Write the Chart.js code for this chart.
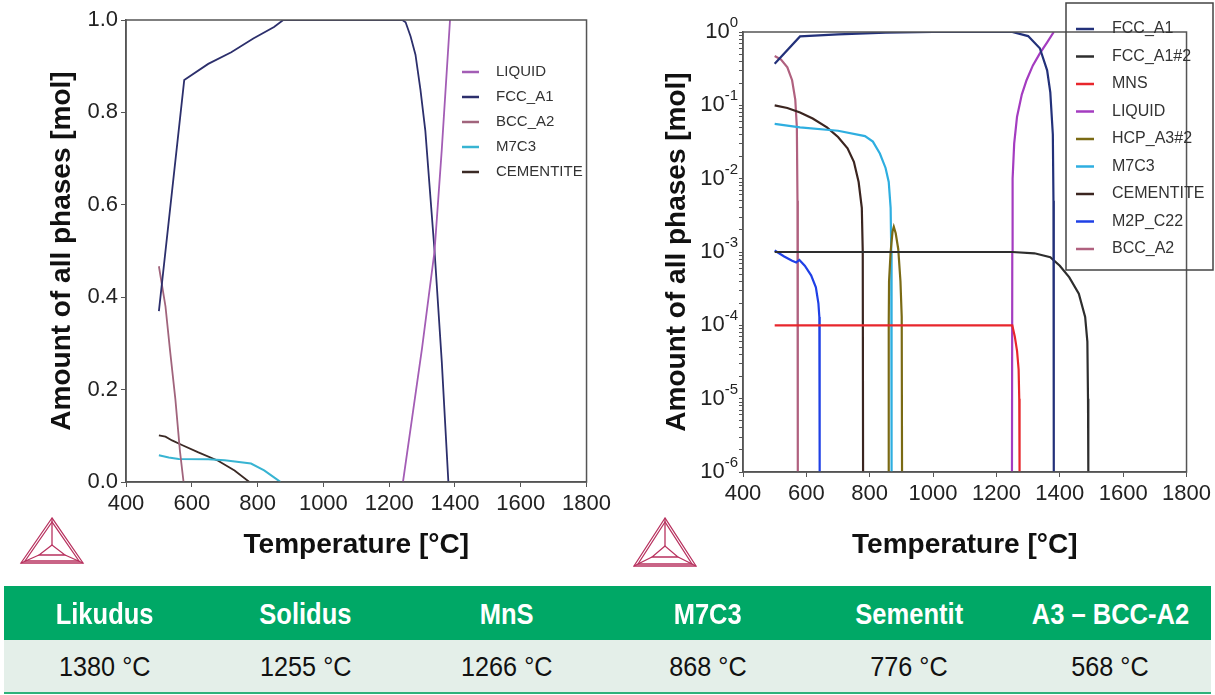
<!DOCTYPE html>
<html>
<head>
<meta charset="utf-8">
<script src="https://cdn.jsdelivr.net/npm/chart.js@4.4.0/dist/chart.umd.min.js"></script>
<style>
  body { margin:0; background:#fff; width:1215px; height:695px; overflow:hidden; position:relative; font-family:"Liberation Sans", Arial, sans-serif; }
  #cL { position:absolute; left:0; top:0; }
  #cR { position:absolute; left:615px; top:0; }
  .logo { position:absolute; top:512px; }
  .row { position:absolute; left:4px; width:1207px; display:flex; }
  .row div { flex:1; text-align:center; }
  .row span { display:inline-block; }
  #head { top:586px; height:54px; background:#00a866; color:#fff; font-weight:bold; font-size:29px; line-height:56px; }
  #head span { transform:scaleX(0.88); }
  #vals { top:640px; height:52px; background:#e4efe9; color:#111; font-size:28px; line-height:54px; border-bottom:2px solid #2db27a; }
  #vals span { transform:scaleX(0.9); }
</style>
</head>
<body>
<canvas id="cL" width="615" height="575"></canvas>
<canvas id="cR" width="600" height="575"></canvas>

<svg class="logo" style="left:14px" width="76" height="60" viewBox="0 0 76 60">
  <g fill="none" stroke="#b8325f" stroke-width="1.3">
    <polygon points="38,6 7,51 69,51"/>
    <polygon points="38,10 11,49 65,49"/>
    <polygon points="38,33 25,43 51,43"/>
    <line x1="38" y1="6" x2="38" y2="33"/>
    <line x1="7" y1="51" x2="25" y2="43"/>
    <line x1="69" y1="51" x2="51" y2="43"/>
  </g>
</svg>
<svg class="logo" style="left:627px" width="76" height="60" viewBox="0 0 76 60">
  <g fill="none" stroke="#b8325f" stroke-width="1.3">
    <polygon points="38,6 7,54 69,54"/>
    <polygon points="38,10 11,52 65,52"/>
    <polygon points="38,34 25,45 51,45"/>
    <line x1="38" y1="6" x2="38" y2="34"/>
    <line x1="7" y1="54" x2="25" y2="45"/>
    <line x1="69" y1="54" x2="51" y2="45"/>
  </g>
</svg>

<div class="row" id="head"></div>
<div class="row" id="vals"></div>

<script>
// axis ticks
const tempTicks = [400, 600, 800, 1000, 1200, 1400, 1600, 1800];
const linTicks = [0, 0.2, 0.4, 0.6, 0.8, 1.0];
const logPowers = [0, -1, -2, -3, -4, -5, -6];

// left chart (linear amounts)
const liqT = [1242, 1270, 1300, 1338, 1360, 1385];
const liqA = [0, 0.14, 0.29, 0.5, 0.72, 1.0];
const fccT = [500, 577, 650, 720, 787, 850, 878, 1240, 1250, 1265, 1280, 1295, 1310, 1338, 1360, 1380];
const fccA = [0.37, 0.87, 0.905, 0.93, 0.96, 0.985, 1.0, 1.0, 0.995, 0.965, 0.925, 0.85, 0.76, 0.5, 0.26, 0];
const bccT = [500, 520, 534, 550, 564, 575];
const bccA = [0.467, 0.38, 0.284, 0.18, 0.067, 0];
const m7c3T = [500, 530, 560, 650, 700, 780, 820, 850, 870];
const m7c3A = [0.058, 0.053, 0.05, 0.049, 0.047, 0.04, 0.025, 0.01, 0];
const cemT = [500, 520, 540, 570, 620, 680, 730, 775];
const cemA = [0.101, 0.098, 0.09, 0.08, 0.064, 0.046, 0.025, 0];

// right chart (log amounts)
const rFccT = [500, 580, 700, 850, 1000, 1250, 1300, 1337, 1360, 1370, 1378, 1380, 1381];
const rFccA = [0.37, 0.87, 0.93, 0.98, 1.0, 1.0, 0.88, 0.6, 0.3, 0.15, 0.04, 0.005, 1e-6];
const rFcc2T = [500, 1250, 1320, 1370, 1400, 1430, 1460, 1480, 1487, 1489, 1490];
const rFcc2A = [1e-3, 1e-3, 9.6e-4, 8.5e-4, 6.5e-4, 4.5e-4, 2.7e-4, 1.3e-4, 6e-5, 1e-5, 1e-6];
const rMnsT = [500, 1250, 1258, 1265, 1270, 1272, 1273];
const rMnsA = [1e-4, 1e-4, 7e-5, 4.5e-5, 2.5e-5, 1e-5, 1e-6];
const rLiqT = [1249, 1250, 1251, 1256, 1265, 1280, 1295, 1315, 1337, 1360, 1381];
const rLiqA = [1e-6, 1e-3, 0.01, 0.03, 0.07, 0.14, 0.22, 0.35, 0.51, 0.72, 1.0];
const rHcpT = [860, 860, 861, 866, 872, 876, 882, 890, 897, 901, 902];
const rHcpA = [1e-6, 1e-4, 4e-4, 1e-3, 1.9e-3, 2.2e-3, 1.8e-3, 1.1e-3, 4e-4, 1.3e-4, 1e-6];
const rM7c3T = [500, 580, 700, 785, 810, 832, 850, 860, 866, 868, 869];
const rM7c3A = [0.056, 0.05, 0.045, 0.038, 0.032, 0.022, 0.014, 0.009, 0.004, 1e-3, 1e-6];
const rCemT = [500, 540, 580, 620, 665, 700, 730, 750, 765, 775, 778, 779];
const rCemA = [0.1, 0.092, 0.08, 0.066, 0.05, 0.037, 0.026, 0.017, 0.009, 0.004, 0.001, 1e-6];
const rM2pT = [500, 530, 555, 568, 578, 595, 615, 630, 638, 641, 642];
const rM2pA = [1.05e-3, 8.7e-4, 7.6e-4, 7.2e-4, 7.8e-4, 6.5e-4, 4.8e-4, 3.3e-4, 2e-4, 1.3e-4, 1e-6];
const rBccT = [500, 520, 540, 555, 565, 570, 572, 573];
const rBccA = [0.47, 0.42, 0.33, 0.22, 0.12, 0.05, 0.005, 1e-6];

// table
const tableHead = ["Likudus", "Solidus", "MnS", "M7C3", "Sementit", "A3 \u2013 BCC-A2"];
const tableVals = ["1380 \u00B0C", "1255 \u00B0C", "1266 \u00B0C", "868 \u00B0C", "776 \u00B0C", "568 \u00B0C"];

document.getElementById("head").innerHTML = tableHead.map(t => `<div><span>${t}</span></div>`).join("");
document.getElementById("vals").innerHTML = tableVals.map(t => `<div><span>${t}</span></div>`).join("");

const FONT = '"Liberation Sans", Arial, sans-serif';
const pts = (xs, ys) => xs.map((x, i) => ({x: x, y: ys[i]}));
const ds = (label, xs, ys, color, w) => ({
  label, data: pts(xs, ys), borderColor: color, backgroundColor: color,
  borderWidth: w, pointRadius: 0, tension: 0, fill: false
});

// frame around plot area
const frame = {
  id: 'frame',
  afterDatasetsDraw(chart) {
    const a = chart.chartArea, ctx = chart.ctx;
    ctx.save();
    ctx.strokeStyle = '#555';
    ctx.lineWidth = 1.5;
    ctx.strokeRect(a.left, a.top, a.width, a.height);
    ctx.restore();
  }
};

// legend drawn by hand (short swatch + label)
const handLegend = {
  id: 'handLegend',
  afterDraw(chart, args, opts) {
    const ctx = chart.ctx;
    ctx.save();
    if (opts.box) {
      ctx.strokeStyle = '#444';
      ctx.lineWidth = 1.5;
      ctx.strokeRect(opts.box[0], opts.box[1], opts.box[2], opts.box[3]);
    }
    ctx.font = opts.size + 'px ' + FONT;
    ctx.textBaseline = 'middle';
    chart.data.datasets.forEach((d, i) => {
      const y = opts.y + i * opts.step;
      ctx.strokeStyle = d.borderColor;
      ctx.lineWidth = 2.5;
      ctx.beginPath();
      ctx.moveTo(opts.x, y);
      ctx.lineTo(opts.x + opts.sw, y);
      ctx.stroke();
      ctx.fillStyle = '#333';
      ctx.fillText(d.label, opts.x + opts.tx, y);
    });
    ctx.restore();
  }
};

// 10^n labels on the log axis
const expLabels = {
  id: 'expLabels',
  afterDraw(chart) {
    const ctx = chart.ctx, ys = chart.scales.y;
    ctx.save();
    ctx.fillStyle = '#222';
    ctx.textAlign = 'right';
    ctx.textBaseline = 'middle';
    logPowers.forEach(p => {
      const py = ys.getPixelForValue(Math.pow(10, p));
      const right = ys.right - 5;
      ctx.font = '15px ' + FONT;
      const e = String(p);
      const w = ctx.measureText(e).width;
      ctx.fillText(e, right, py - 9);
      ctx.font = '22px ' + FONT;
      ctx.fillText('10', right - w, py);
    });
    ctx.restore();
  }
};

const xScale = (h) => ({
  type: 'linear', min: 400, max: 1800,
  afterBuildTicks: s => { s.ticks = tempTicks.map(v => ({value: v})); },
  afterFit: s => { s.height = h; },
  ticks: { color: '#222', font: {family: FONT, size: 22}, padding: 4, maxRotation: 0, autoSkip: false,
           callback: v => String(v) },
  grid: { drawOnChartArea: false, tickLength: 5, color: '#555' },
  border: { color: '#555', width: 1.5 },
  title: { display: true, text: 'Temperature [\u00B0C]', color: '#111',
           font: {family: FONT, size: 28, weight: 'bold'}, padding: {top: 0, bottom: 13} }
});

const yTitle = (padTop) => ({
  display: true, text: 'Amount of all phases [mol]', color: '#111',
  font: {family: FONT, size: 28, weight: 'bold'}, padding: {top: padTop, bottom: 0}
});

new Chart(document.getElementById('cL'), {
  type: 'line',
  data: {
    datasets: [
      ds('LIQUID', liqT, liqA, '#a35db5', 1.8),
      ds('FCC_A1', fccT, fccA, '#2c2f6c', 1.8),
      ds('BCC_A2', bccT, bccA, '#a1647c', 1.8),
      ds('M7C3', m7c3T, m7c3A, '#38b4d2', 2),
      ds('CEMENTITE', cemT, cemA, '#3b2a25', 1.8)
    ]
  },
  options: {
    responsive: false, animation: false,
    layout: { padding: {top: 20, right: 23, bottom: 0, left: 0} },
    plugins: {
      legend: {display: false}, tooltip: {enabled: false},
      handLegend: { x: 462, y: 72, step: 25, sw: 17, tx: 34, size: 15 }
    },
    scales: {
      x: xScale(93),
      y: {
        min: 0, max: 1,
        afterBuildTicks: s => { s.ticks = linTicks.map(v => ({value: v})); },
        afterFit: s => { s.width = 126; },
        ticks: { color: '#222', font: {family: FONT, size: 22}, padding: 3, callback: v => v.toFixed(1) },
        grid: { drawOnChartArea: false, tickLength: 5, color: '#555' },
        border: { color: '#555', width: 1.5 },
        title: yTitle(45)
      }
    }
  },
  plugins: [frame, handLegend]
});

const logTicks = [];
for (let p = -6; p < 0; p++) for (let k = 1; k < 10; k++) logTicks.push(k * Math.pow(10, p));
logTicks.push(1);

new Chart(document.getElementById('cR'), {
  type: 'line',
  data: {
    datasets: [
      ds('FCC_A1', rFccT, rFccA, '#23317a', 2.2),
      ds('FCC_A1#2', rFcc2T, rFcc2A, '#2e2e2e', 2.2),
      ds('MNS', rMnsT, rMnsA, '#e8262c', 2.2),
      ds('LIQUID', rLiqT, rLiqA, '#a43cc0', 2.2),
      ds('HCP_A3#2', rHcpT, rHcpA, '#7a6a14', 2.2),
      ds('M7C3', rM7c3T, rM7c3A, '#2eaee0', 2.2),
      ds('CEMENTITE', rCemT, rCemA, '#3b2520', 2.2),
      ds('M2P_C22', rM2pT, rM2pA, '#1f40e6', 2.2),
      ds('BCC_A2', rBccT, rBccA, '#b0617f', 2.2)
    ]
  },
  options: {
    responsive: false, animation: false,
    layout: { padding: {top: 32, right: 28, bottom: 0, left: 0} },
    plugins: {
      legend: {display: false}, tooltip: {enabled: false},
      handLegend: { x: 461, y: 29, step: 27.5, sw: 18, tx: 36, size: 16, box: [451, 3, 147, 267] }
    },
    scales: {
      x: xScale(103),
      y: {
        type: 'logarithmic', min: 1e-6, max: 1,
        afterBuildTicks: s => { s.ticks = logTicks.map(v => ({value: v})); },
        afterFit: s => { s.width = 128; },
        ticks: { display: false },
        grid: { drawOnChartArea: false, tickLength: 4, color: '#555' },
        border: { color: '#555', width: 1.5 },
        title: yTitle(45)
      }
    }
  },
  plugins: [frame, handLegend, expLabels]
});
</script>
</body>
</html>
